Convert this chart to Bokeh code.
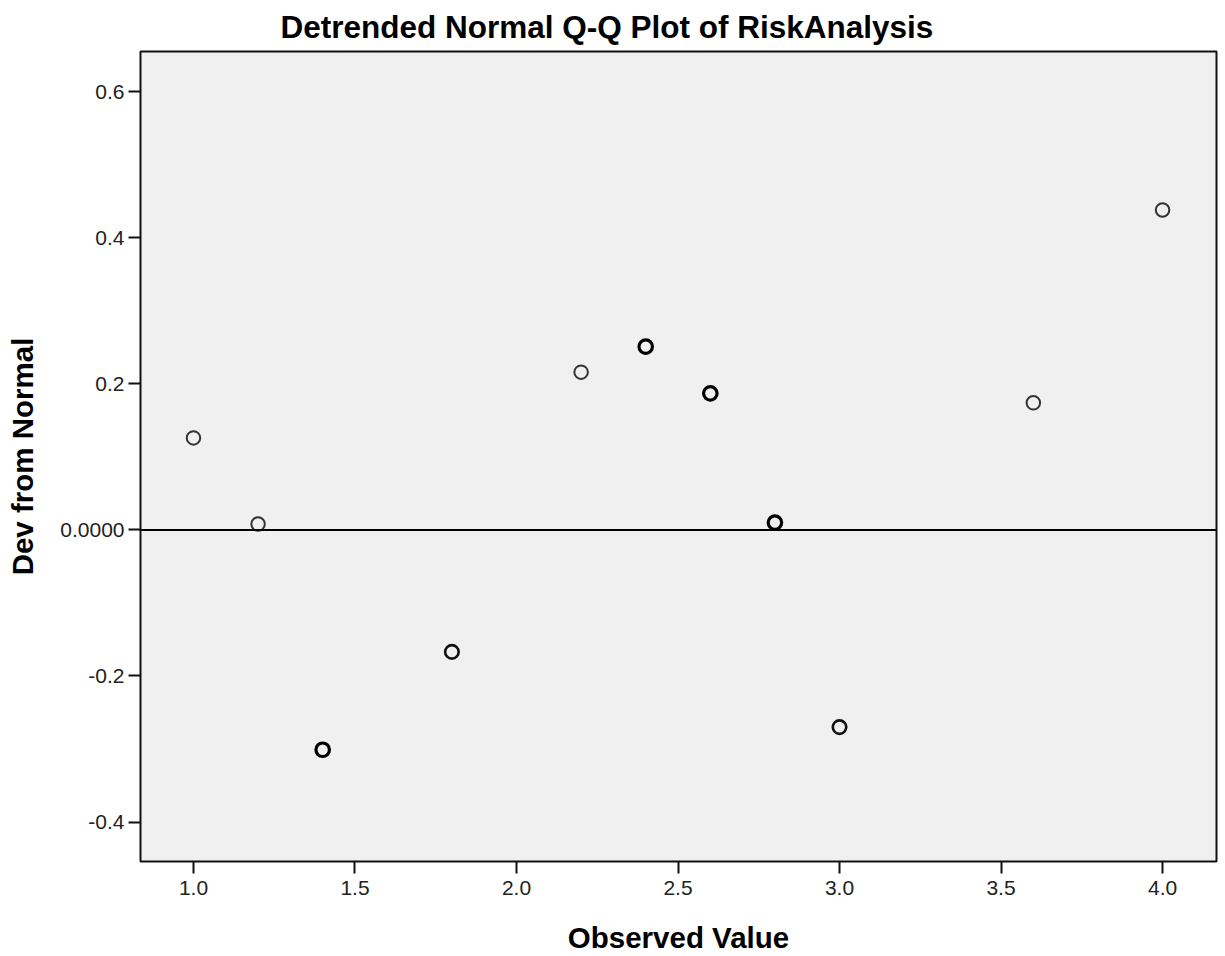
from bokeh.plotting import figure
from bokeh.models import ColumnDataSource, FixedTicker, Span, Title
from bokeh.embed import file_html
from bokeh.resources import INLINE

# ---- data ----
observed = [1.0, 1.2, 1.4, 1.8, 2.2, 2.4, 2.6, 2.8, 3.0, 3.6, 4.0]
dev_from_normal = [0.126, 0.008, -0.301, -0.167, 0.216, 0.251, 0.187, 0.010, -0.270, 0.174, 0.438]
frequency = [1, 1, 3, 2, 1, 3, 3, 3, 2, 1, 1]
x_ticks = [1.0, 1.5, 2.0, 2.5, 3.0, 3.5, 4.0]
y_ticks = [-0.4, -0.2, 0.0, 0.2, 0.4, 0.6]
y_tick_labels = ["-0.4", "-0.2", "0.0000", "0.2", "0.4", "0.6"]

FONT = "Liberation Sans"

lw_map = {1: 2.0, 2: 2.6, 3: 3.2}
col_map = {1: "#333333", 2: "#111111", 3: "#000000"}
src = ColumnDataSource(dict(
    x=observed, y=dev_from_normal,
    lw=[lw_map[f] for f in frequency],
    lc=[col_map[f] for f in frequency],
))

p = figure(width=1218, height=956, output_backend="svg", toolbar_location=None,
           x_range=(0.836, 4.167), y_range=(-0.454, 0.655),
           min_border_left=140, min_border_right=2, min_border_top=50, min_border_bottom=95)

p.title = Title(text="Detrended Normal Q-Q Plot of RiskAnalysis", align="left", offset=140,
                text_font=FONT, text_font_size="31.5px", text_font_style="bold",
                text_color="#000000", standoff=13)

p.background_fill_color = "#f0f0f0"
p.border_fill_color = "#ffffff"
p.outline_line_color = "#111111"
p.outline_line_width = 2
p.grid.visible = False

p.add_layout(Span(location=0, dimension="width", line_color="#000000", line_width=2))

p.scatter("x", "y", source=src, marker="circle", size=13.5, fill_alpha=0,
          line_color="lc", line_width="lw")

for ax in (p.xaxis[0], p.yaxis[0]):
    ax.axis_line_color = None
    ax.major_tick_line_color = "#111111"
    ax.major_tick_line_width = 2
    ax.major_tick_in = 0
    ax.major_tick_out = 12
    ax.minor_tick_line_color = None
    ax.major_label_text_font = FONT
    ax.major_label_text_font_size = "21px"
    ax.major_label_text_color = "#222222"
    ax.axis_label_text_font = FONT
    ax.axis_label_text_font_size = "29.5px"
    ax.axis_label_text_font_style = "bold"
    ax.axis_label_text_color = "#000000"

p.xaxis.ticker = FixedTicker(ticks=x_ticks)
p.xaxis.major_label_overrides = {t: f"{t:.1f}" for t in x_ticks}
p.xaxis.axis_label = "Observed Value"
p.xaxis.major_label_standoff = 7
p.xaxis.axis_label_standoff = 23

p.yaxis.ticker = FixedTicker(ticks=y_ticks)
p.yaxis.major_label_overrides = dict(zip(y_ticks, y_tick_labels))
p.yaxis.axis_label = "Dev from Normal"
p.yaxis.major_label_standoff = 4
p.yaxis.axis_label_standoff = 18

open("out.html", "w").write(file_html(p, INLINE))
